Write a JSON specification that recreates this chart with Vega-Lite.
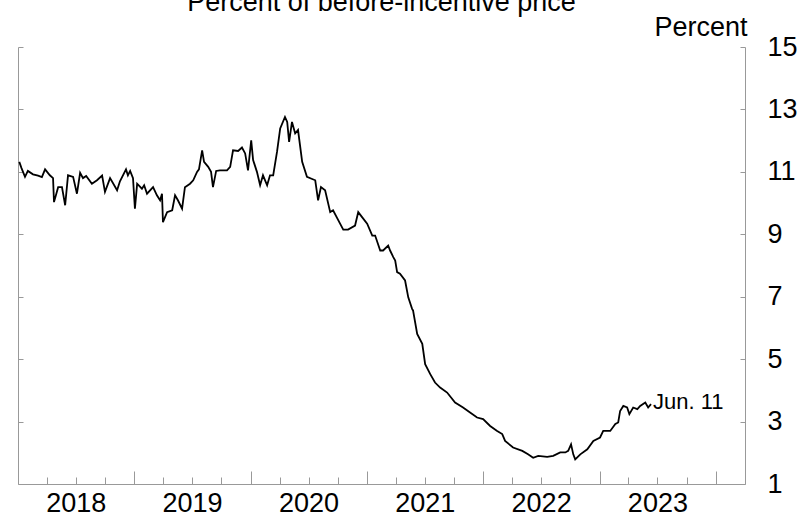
{
  "$schema": "https://vega.github.io/schema/vega-lite/v6.json",
  "width": 727,
  "height": 437,
  "autosize": {"type": "none"},
  "padding": {"left": 18, "top": 47, "right": 54, "bottom": 33},
  "background": "white",
  "config": {"view": {"stroke": null}, "font": "Liberation Sans"},
  "title": {
    "text": "Percent of before-incentive price",
    "fontSize": 27,
    "fontWeight": "normal",
    "font": "Liberation Sans",
    "color": "black",
    "anchor": "middle",
    "frame": "group",
    "offset": -4
  },
  "layer": [
    {
      "data": {"values": [
        {"date": "2018-01-05", "value": 11.32},
        {"date": "2018-01-12", "value": 11.12},
        {"date": "2018-01-23", "value": 10.84},
        {"date": "2018-02-01", "value": 11.03},
        {"date": "2018-02-17", "value": 10.92},
        {"date": "2018-03-05", "value": 10.88},
        {"date": "2018-03-17", "value": 10.83},
        {"date": "2018-03-27", "value": 11.08},
        {"date": "2018-04-11", "value": 10.89},
        {"date": "2018-04-21", "value": 10.8},
        {"date": "2018-04-24", "value": 10.03},
        {"date": "2018-05-07", "value": 10.51},
        {"date": "2018-05-19", "value": 10.51},
        {"date": "2018-05-29", "value": 9.93},
        {"date": "2018-06-07", "value": 10.89},
        {"date": "2018-06-23", "value": 10.84},
        {"date": "2018-07-05", "value": 10.3},
        {"date": "2018-07-15", "value": 10.97},
        {"date": "2018-07-24", "value": 10.8},
        {"date": "2018-08-03", "value": 10.87},
        {"date": "2018-08-21", "value": 10.62},
        {"date": "2018-09-06", "value": 10.73},
        {"date": "2018-09-22", "value": 10.88},
        {"date": "2018-10-01", "value": 10.36},
        {"date": "2018-10-17", "value": 10.8},
        {"date": "2018-11-08", "value": 10.41},
        {"date": "2018-11-17", "value": 10.7},
        {"date": "2018-12-06", "value": 11.08},
        {"date": "2018-12-12", "value": 10.89},
        {"date": "2018-12-19", "value": 11.03},
        {"date": "2018-12-28", "value": 10.8},
        {"date": "2019-01-03", "value": 9.82},
        {"date": "2019-01-10", "value": 10.62},
        {"date": "2019-01-25", "value": 10.46},
        {"date": "2019-02-01", "value": 10.57},
        {"date": "2019-02-10", "value": 10.3},
        {"date": "2019-03-01", "value": 10.51},
        {"date": "2019-03-13", "value": 10.25},
        {"date": "2019-03-23", "value": 10.09},
        {"date": "2019-03-29", "value": 10.3},
        {"date": "2019-04-01", "value": 9.39},
        {"date": "2019-04-14", "value": 9.71},
        {"date": "2019-04-30", "value": 9.77},
        {"date": "2019-05-09", "value": 10.25},
        {"date": "2019-05-18", "value": 10.09},
        {"date": "2019-05-31", "value": 9.82},
        {"date": "2019-06-09", "value": 10.51},
        {"date": "2019-06-25", "value": 10.62},
        {"date": "2019-07-05", "value": 10.73},
        {"date": "2019-07-17", "value": 11.0},
        {"date": "2019-07-23", "value": 11.08},
        {"date": "2019-08-02", "value": 11.69},
        {"date": "2019-08-08", "value": 11.32},
        {"date": "2019-08-21", "value": 11.16},
        {"date": "2019-08-30", "value": 11.0},
        {"date": "2019-09-05", "value": 10.51},
        {"date": "2019-09-15", "value": 11.03},
        {"date": "2019-09-27", "value": 11.05},
        {"date": "2019-10-19", "value": 11.05},
        {"date": "2019-10-29", "value": 11.16},
        {"date": "2019-11-07", "value": 11.69},
        {"date": "2019-11-23", "value": 11.67},
        {"date": "2019-12-05", "value": 11.78},
        {"date": "2019-12-15", "value": 11.59},
        {"date": "2019-12-24", "value": 11.05},
        {"date": "2020-01-03", "value": 12.01},
        {"date": "2020-01-09", "value": 11.38},
        {"date": "2020-01-21", "value": 11.0},
        {"date": "2020-01-31", "value": 10.57},
        {"date": "2020-02-09", "value": 10.89},
        {"date": "2020-02-22", "value": 10.57},
        {"date": "2020-03-02", "value": 10.89},
        {"date": "2020-03-12", "value": 10.89},
        {"date": "2020-03-24", "value": 11.64},
        {"date": "2020-04-03", "value": 12.39},
        {"date": "2020-04-18", "value": 12.76},
        {"date": "2020-04-25", "value": 12.6},
        {"date": "2020-05-01", "value": 11.96},
        {"date": "2020-05-10", "value": 12.6},
        {"date": "2020-05-20", "value": 12.23},
        {"date": "2020-05-29", "value": 12.34},
        {"date": "2020-06-11", "value": 11.32},
        {"date": "2020-06-26", "value": 10.84},
        {"date": "2020-07-22", "value": 10.73},
        {"date": "2020-07-31", "value": 10.09},
        {"date": "2020-08-09", "value": 10.51},
        {"date": "2020-08-22", "value": 10.41},
        {"date": "2020-09-07", "value": 9.71},
        {"date": "2020-09-16", "value": 9.77},
        {"date": "2020-10-08", "value": 9.34},
        {"date": "2020-10-18", "value": 9.15},
        {"date": "2020-11-02", "value": 9.15},
        {"date": "2020-11-24", "value": 9.28},
        {"date": "2020-12-04", "value": 9.71},
        {"date": "2020-12-16", "value": 9.55},
        {"date": "2021-01-01", "value": 9.34},
        {"date": "2021-01-17", "value": 8.96},
        {"date": "2021-01-26", "value": 8.96},
        {"date": "2021-02-11", "value": 8.48},
        {"date": "2021-02-20", "value": 8.48},
        {"date": "2021-03-08", "value": 8.64},
        {"date": "2021-03-14", "value": 8.48},
        {"date": "2021-03-24", "value": 8.27},
        {"date": "2021-03-30", "value": 8.16},
        {"date": "2021-04-05", "value": 7.79},
        {"date": "2021-04-14", "value": 7.74},
        {"date": "2021-04-30", "value": 7.52},
        {"date": "2021-05-10", "value": 6.98},
        {"date": "2021-05-22", "value": 6.61},
        {"date": "2021-05-25", "value": 6.56},
        {"date": "2021-06-07", "value": 5.81},
        {"date": "2021-06-23", "value": 5.49},
        {"date": "2021-07-02", "value": 4.84},
        {"date": "2021-07-18", "value": 4.52},
        {"date": "2021-08-02", "value": 4.25},
        {"date": "2021-08-18", "value": 4.09},
        {"date": "2021-09-09", "value": 3.93},
        {"date": "2021-10-04", "value": 3.61},
        {"date": "2021-10-29", "value": 3.45},
        {"date": "2021-11-20", "value": 3.29},
        {"date": "2021-12-12", "value": 3.13},
        {"date": "2021-12-31", "value": 3.08},
        {"date": "2022-01-22", "value": 2.86},
        {"date": "2022-02-13", "value": 2.7},
        {"date": "2022-03-01", "value": 2.6},
        {"date": "2022-03-10", "value": 2.38},
        {"date": "2022-04-04", "value": 2.17},
        {"date": "2022-05-03", "value": 2.06},
        {"date": "2022-05-21", "value": 1.95},
        {"date": "2022-06-06", "value": 1.84},
        {"date": "2022-06-22", "value": 1.9},
        {"date": "2022-07-20", "value": 1.87},
        {"date": "2022-08-08", "value": 1.9},
        {"date": "2022-08-30", "value": 2.01},
        {"date": "2022-09-15", "value": 2.01},
        {"date": "2022-09-24", "value": 2.06},
        {"date": "2022-10-03", "value": 2.27},
        {"date": "2022-10-10", "value": 1.95},
        {"date": "2022-10-16", "value": 1.79},
        {"date": "2022-11-01", "value": 1.95},
        {"date": "2022-11-23", "value": 2.11},
        {"date": "2022-12-12", "value": 2.38},
        {"date": "2023-01-02", "value": 2.49},
        {"date": "2023-01-12", "value": 2.7},
        {"date": "2023-02-03", "value": 2.7},
        {"date": "2023-02-19", "value": 2.92},
        {"date": "2023-02-28", "value": 2.97},
        {"date": "2023-03-06", "value": 3.34},
        {"date": "2023-03-16", "value": 3.5},
        {"date": "2023-03-28", "value": 3.45},
        {"date": "2023-04-04", "value": 3.24},
        {"date": "2023-04-16", "value": 3.45},
        {"date": "2023-04-29", "value": 3.4},
        {"date": "2023-05-08", "value": 3.5},
        {"date": "2023-05-24", "value": 3.61},
        {"date": "2023-06-02", "value": 3.45},
        {"date": "2023-06-11", "value": 3.56}
      ]},
      "mark": {"type": "line", "color": "black", "strokeWidth": 1.8},
      "encoding": {
        "x": {
          "field": "date",
          "type": "temporal",
          "scale": {"type": "utc", "domain": [1514764800000, 1711929600000]},
          "axis": {
            "orient": "bottom",
            "title": null,
            "grid": false,
            "values": [
              1522540800000, 1530403200000, 1538352000000,
              1554076800000, 1561939200000, 1569888000000,
              1585699200000, 1593561600000, 1601510400000,
              1617235200000, 1625097600000, 1633046400000,
              1648771200000, 1656633600000, 1664582400000,
              1680307200000, 1688169600000, 1696118400000
            ],
            "labels": false,
            "ticks": true,
            "tickSize": -7,
            "tickColor": "#999999",
            "tickWidth": 1,
            "domainColor": "#999999",
            "domainWidth": 1
          }
        },
        "y": {
          "field": "value",
          "type": "quantitative",
          "scale": {"domain": [1, 15], "nice": false, "zero": false},
          "axis": {
            "orient": "right",
            "title": "Percent",
            "titleAngle": 0,
            "titleAlign": "right",
            "titleBaseline": "alphabetic",
            "titleX": 2,
            "titleY": -12,
            "titleFontSize": 27,
            "titleFontWeight": "normal",
            "titleColor": "black",
            "titleFont": "Liberation Sans",
            "values": [1, 3, 5, 7, 9, 11, 13, 15],
            "grid": false,
            "tickSize": -5,
            "tickColor": "#999999",
            "domainColor": "#999999",
            "labelFontSize": 27,
            "labelColor": "black",
            "labelFont": "Liberation Sans",
            "labelPadding": 27,
            "labelBound": false,
            "labelFlush": false,
            "labelOverlap": false
          }
        }
      }
    },
    {
      "data": {"values": [
        {"date": "2023-06-11", "value": 3.62, "label": "Jun. 11"}
      ]},
      "mark": {"type": "text", "align": "left", "baseline": "middle", "dx": 2, "fontSize": 22, "font": "Liberation Sans", "color": "black"},
      "encoding": {
        "x": {
          "field": "date",
          "type": "temporal",
          "axis": {
            "orient": "bottom",
            "title": null,
            "grid": false,
            "values": [1546300800000, 1577836800000, 1609459200000, 1640995200000, 1672531200000, 1704067200000],
            "labels": false,
            "ticks": true,
            "tickSize": -13,
            "tickColor": "#999999",
            "tickWidth": 1,
            "domain": false
          }
        },
        "y": {
          "field": "value",
          "type": "quantitative",
          "axis": {
            "orient": "left",
            "title": null,
            "values": [1, 3, 5, 7, 9, 11, 13, 15],
            "labels": false,
            "grid": false,
            "tickSize": -5,
            "tickColor": "#999999",
            "domainColor": "#999999"
          }
        },
        "text": {"field": "label"}
      }
    },
    {
      "data": {"values": [
        {"date": "2023-06-11", "value": 3.56}
      ]},
      "mark": {"type": "point", "opacity": 0},
      "encoding": {
        "x": {
          "field": "date",
          "type": "temporal",
          "axis": {
            "orient": "bottom",
            "title": null,
            "grid": false,
            "values": [1530403200000, 1561939200000, 1593561600000, 1625097600000, 1656633600000, 1688169600000],
            "format": "%Y",
            "ticks": false,
            "domain": false,
            "labelFontSize": 27,
            "labelColor": "black",
            "labelFont": "Liberation Sans",
            "labelPadding": 6,
            "labelOverlap": false,
            "labelFlush": false,
            "labelBound": false
          }
        },
        "y": {"field": "value", "type": "quantitative", "axis": null}
      }
    }
  ],
  "resolve": {"axis": {"x": "independent", "y": "independent"}}
}
